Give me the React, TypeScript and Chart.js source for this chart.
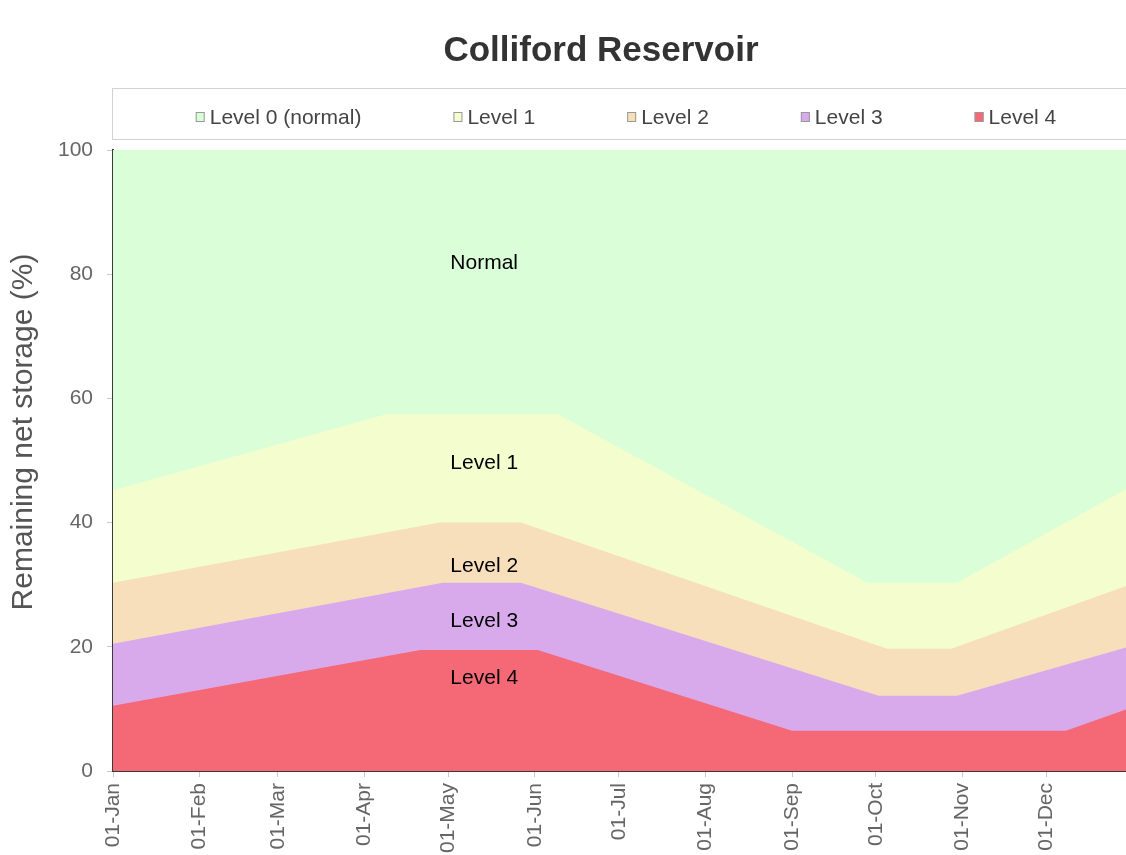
import React, { useEffect, useRef } from "react";
import { Chart, registerables } from "chart.js";

Chart.register(...registerables);

const FONT = '"Liberation Sans", Arial, Helvetica, sans-serif';

const chartTitle = "Colliford Reservoir";
const yAxisTitle = "Remaining net storage (%)";

const seriesNames = ["Level 0 (normal)", "Level 1", "Level 2", "Level 3", "Level 4"];
const seriesColors = ["#d9fed8", "#f4fdce", "#f8dfbb", "#d8aaec", "#f56876"];

// x = day of year (0 = 1 Jan), y = remaining net storage (%)
const level0Days = [0, 365];
const level0Values = [100, 100];
const level1Days = [0, 98, 159, 270, 302, 365];
const level1Values = [45.2, 57.5, 57.5, 30.3, 30.3, 46.0];
const level2Days = [0, 117, 146, 277, 300, 365];
const level2Values = [30.3, 40.0, 40.0, 19.7, 19.7, 30.2];
const level3Days = [0, 118, 146, 274, 302, 365];
const level3Values = [20.5, 30.3, 30.3, 12.1, 12.1, 20.2];
const level4Days = [0, 110, 152, 243, 341, 365];
const level4Values = [10.5, 19.5, 19.5, 6.5, 6.5, 10.3];

const tickDays = [0, 31, 59, 90, 120, 151, 181, 212, 243, 273, 304, 334];
const tickLabels = [
  "01-Jan", "01-Feb", "01-Mar", "01-Apr", "01-May", "01-Jun",
  "01-Jul", "01-Aug", "01-Sep", "01-Oct", "01-Nov", "01-Dec",
];
const yTicks = [0, 20, 40, 60, 80, 100];

const bandLabelTexts = ["Normal", "Level 1", "Level 2", "Level 3", "Level 4"];
const bandLabelDay = 120;
const bandLabelValues = [81.8, 49.5, 33.0, 24.2, 15.0];

const toPoints = (xs: number[], ys: number[]) => xs.map((x, i) => ({ x, y: ys[i] }));

export default function App() {
  const canvasRef = useRef<HTMLCanvasElement | null>(null);

  useEffect(() => {
    document.body.style.margin = "0";
    document.body.style.overflow = "hidden";
    const canvas = canvasRef.current;
    if (!canvas) return;

    const seriesData = [
      toPoints(level0Days, level0Values),
      toPoints(level1Days, level1Values),
      toPoints(level2Days, level2Values),
      toPoints(level3Days, level3Values),
      toPoints(level4Days, level4Values),
    ];

    // draw order: dataset 0 on top -> Level 4 first
    const order = [4, 3, 2, 1, 0];
    const datasets = order.map((i) => ({
      label: seriesNames[i],
      data: seriesData[i],
      backgroundColor: seriesColors[i],
      borderColor: seriesColors[i],
      borderWidth: 0,
      pointRadius: 0,
      fill: "origin",
      tension: 0,
    }));

    const decor = {
      id: "decor",
      afterDatasetsDraw(chart: any) {
        const { ctx, scales } = chart;
        ctx.save();
        ctx.font = `21px ${FONT}`;
        ctx.fillStyle = "#000";
        ctx.textAlign = "left";
        ctx.textBaseline = "middle";
        bandLabelTexts.forEach((t, i) => {
          ctx.fillText(
            t,
            scales.x.getPixelForValue(bandLabelDay) + 2,
            scales.y.getPixelForValue(bandLabelValues[i])
          );
        });
        ctx.restore();
      },
      afterDraw(chart: any) {
        const { ctx, chartArea } = chart;
        ctx.save();
        // title
        ctx.font = `bold 35px ${FONT}`;
        ctx.fillStyle = "#333";
        ctx.textAlign = "center";
        ctx.textBaseline = "middle";
        ctx.fillText(chartTitle, 601, 51);

        // legend box
        const boxTop = 88;
        const boxBottom = 139;
        ctx.strokeStyle = "#d2d2d2";
        ctx.lineWidth = 1;
        ctx.strokeRect(chartArea.left - 0.5, boxTop + 0.5, chartArea.right - chartArea.left, boxBottom - boxTop);

        // legend items
        ctx.font = `21px ${FONT}`;
        const sw = 9;
        const swGap = 5;
        const itemGap = 92;
        const widths = seriesNames.map((n) => sw + swGap + ctx.measureText(n).width);
        const total = widths.reduce((a, b) => a + b, 0) + itemGap * (seriesNames.length - 1);
        let x = (chartArea.left + chartArea.right) / 2 - total / 2 + 3;
        const cy = 117;
        seriesNames.forEach((name, i) => {
          ctx.fillStyle = seriesColors[i];
          ctx.fillRect(x, cy - 5, sw, 10);
          ctx.strokeStyle = "#999";
          ctx.strokeRect(x + 0.5, cy - 4.5, sw - 1, 9);
          ctx.fillStyle = "#444";
          ctx.textAlign = "left";
          ctx.textBaseline = "middle";
          ctx.fillText(name, x + sw + swGap, cy + 1);
          x += widths[i] + itemGap;
        });

        // y axis title
        ctx.translate(24, 432);
        ctx.rotate(-Math.PI / 2);
        ctx.font = `30px ${FONT}`;
        ctx.fillStyle = "#555";
        ctx.textAlign = "center";
        ctx.textBaseline = "middle";
        ctx.fillText(yAxisTitle, 0, 0);
        ctx.restore();
      },
    };

    const chart = new Chart(canvas, {
      type: "line",
      data: { datasets },
      options: {
        animation: false,
        responsive: false,
        layout: { padding: { top: 150, right: 7, left: 0, bottom: 0 } },
        plugins: {
          legend: { display: false },
          title: { display: false },
          tooltip: { enabled: false },
        },
        scales: {
          x: {
            type: "linear",
            min: 0,
            max: 365,
            afterBuildTicks: (scale: any) => {
              scale.ticks = tickDays.map((v) => ({ value: v }));
            },
            afterFit: (scale: any) => {
              scale.height = 84;
            },
            ticks: {
              autoSkip: false,
              minRotation: 90,
              maxRotation: 90,
              padding: 6,
              color: "#666",
              font: { family: FONT, size: 21 },
              callback: (value: any) => {
                const idx = tickDays.indexOf(Number(value));
                return idx >= 0 ? tickLabels[idx] : "";
              },
            },
            grid: {
              display: true,
              drawOnChartArea: false,
              drawTicks: true,
              tickLength: 6,
              color: "#c8c8c8",
            },
            border: { display: true, color: "#3a3a3a", width: 2 },
          },
          y: {
            min: 0,
            max: 100,
            afterBuildTicks: (scale: any) => {
              scale.ticks = yTicks.map((v) => ({ value: v }));
            },
            afterFit: (scale: any) => {
              scale.width = 113;
            },
            ticks: {
              padding: 14,
              color: "#666",
              font: { family: FONT, size: 21 },
            },
            grid: {
              display: true,
              drawOnChartArea: false,
              drawTicks: true,
              tickLength: 6,
              color: "#c8c8c8",
            },
            border: { display: true, color: "#3a3a3a", width: 2 },
          },
        },
      },
      plugins: [decor],
    } as any);

    return () => chart.destroy();
  }, []);

  return (
    <div style={{ width: 1140, height: 855 }}>
      <canvas ref={canvasRef} width={1140} height={855} style={{ display: "block" }} />
    </div>
  );
}
